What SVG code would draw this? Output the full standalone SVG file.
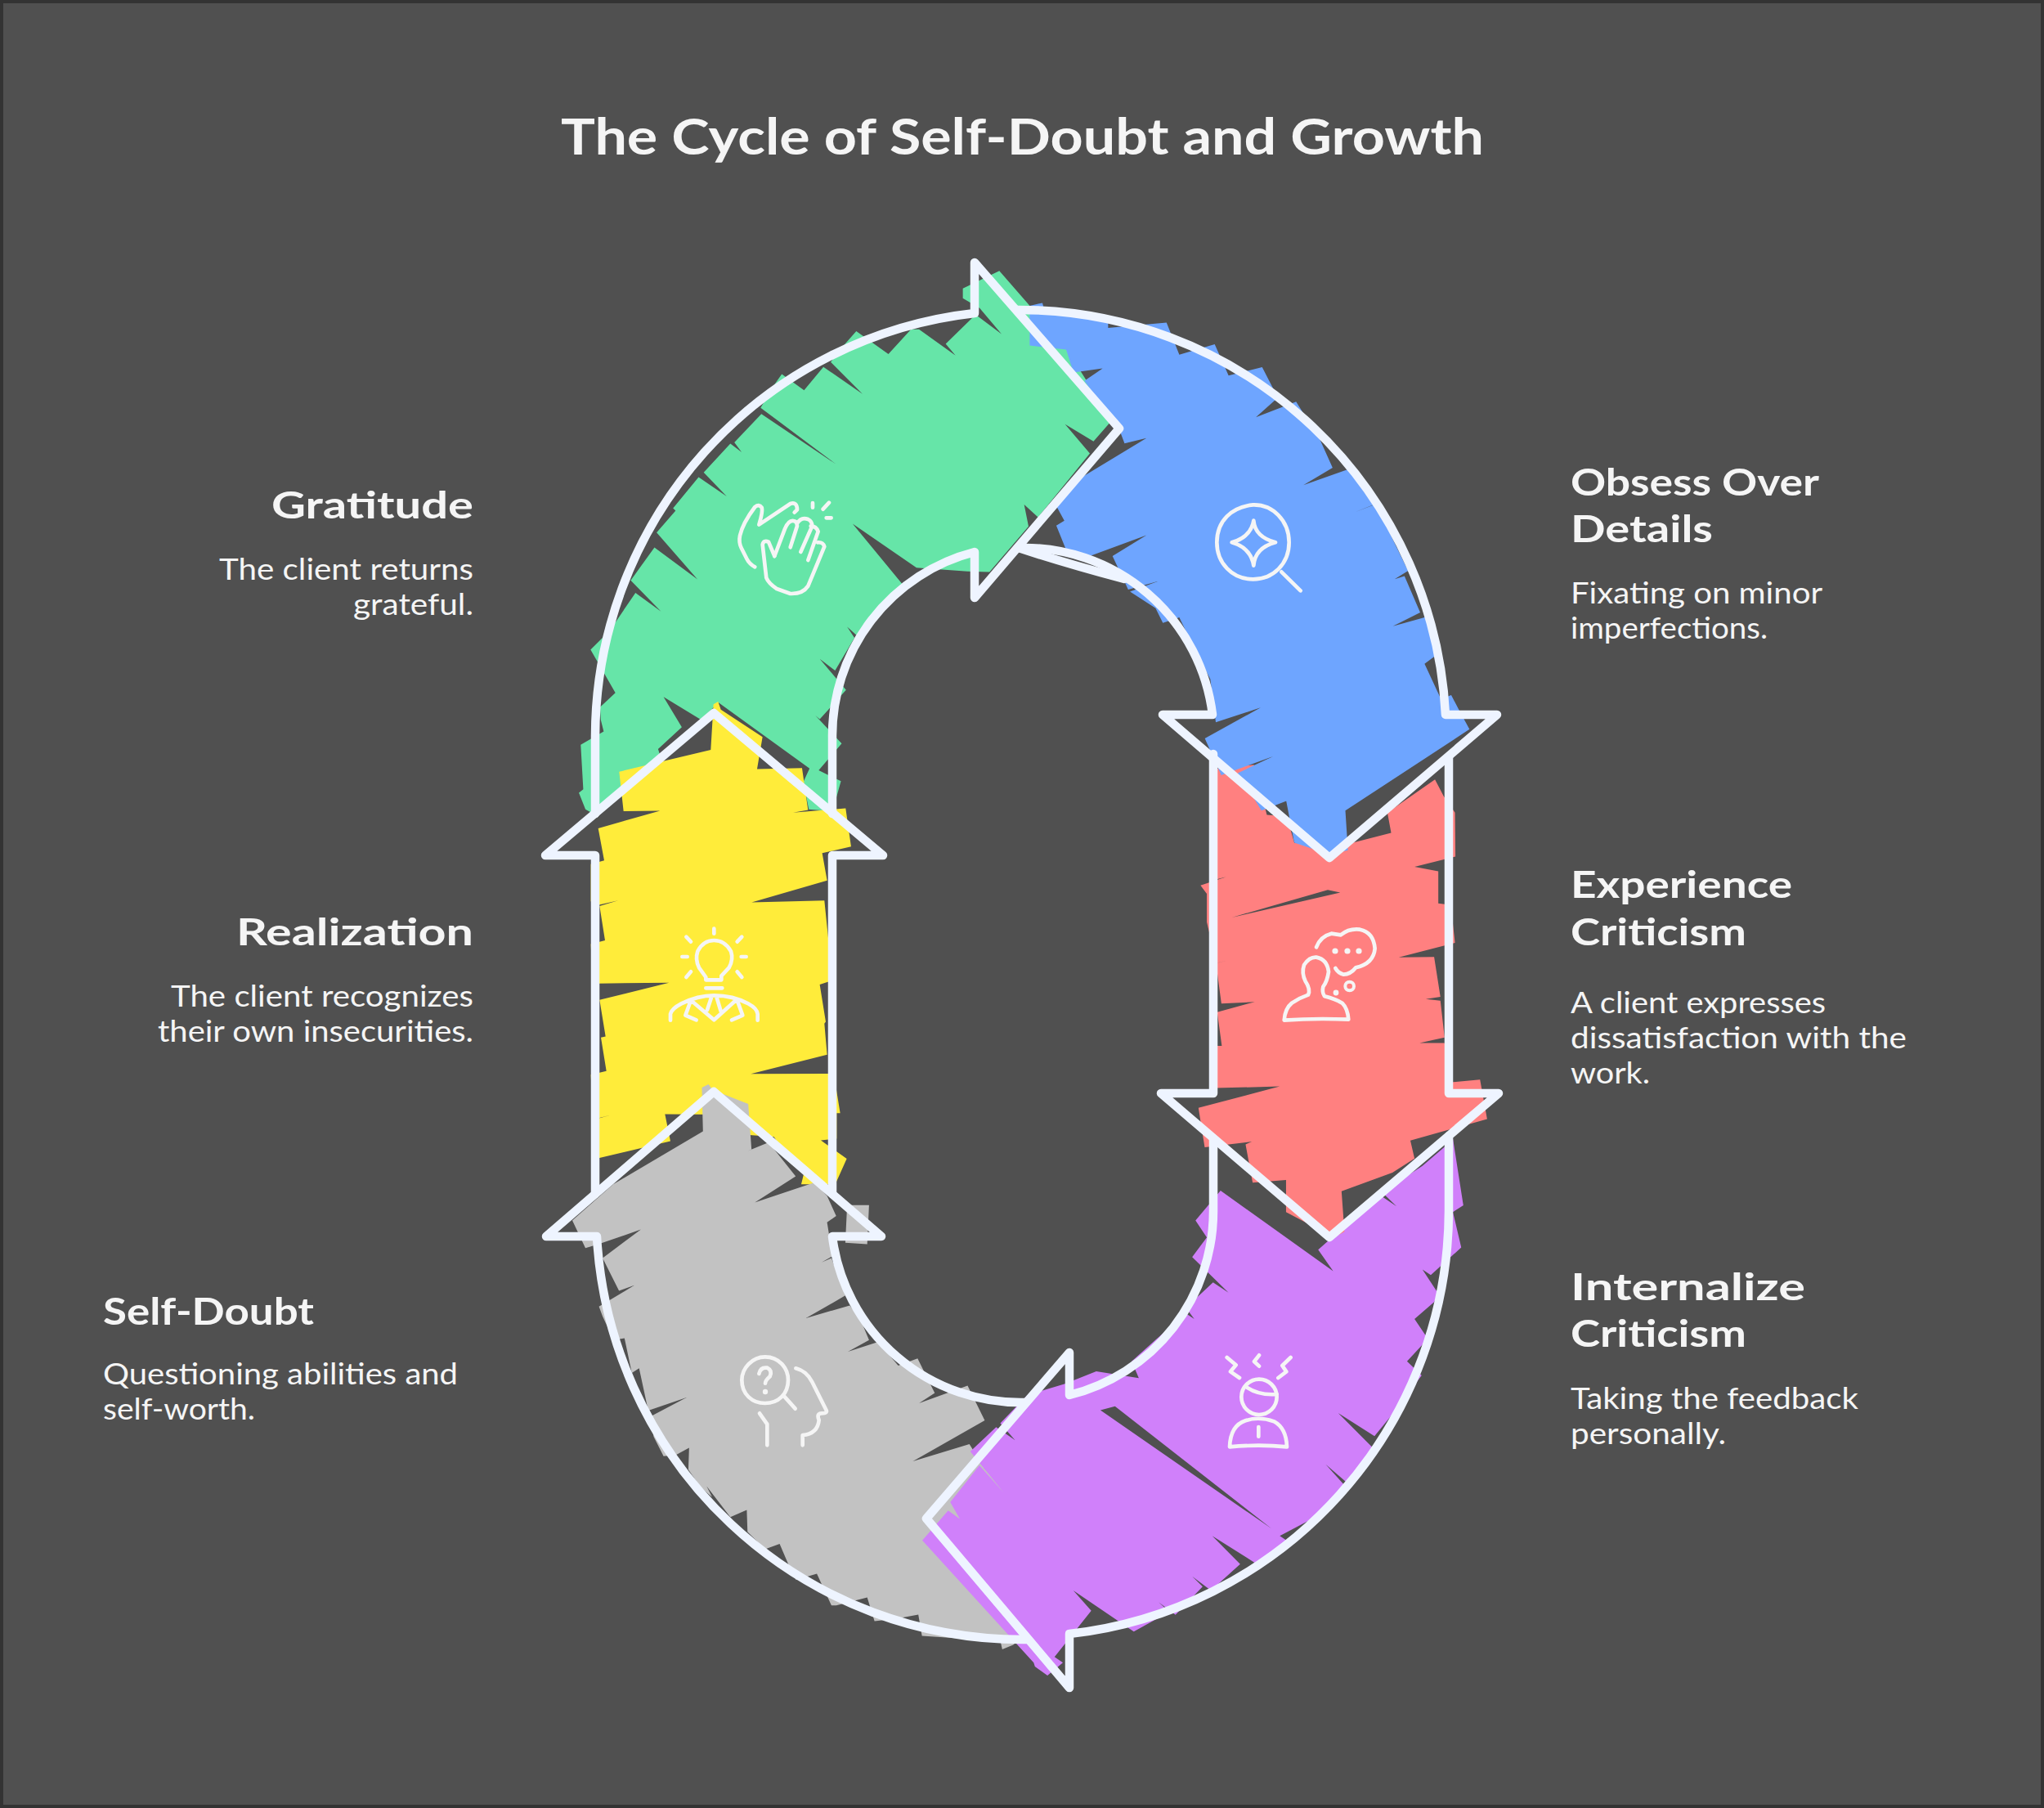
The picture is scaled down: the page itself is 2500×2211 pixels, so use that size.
<svg xmlns="http://www.w3.org/2000/svg" width="2500" height="2211" viewBox="0 0 2500 2211">
<style>
.h{font-family:"Lato","Open Sans",sans-serif;font-weight:700;font-size:46px;fill:#f5f5f5}
.d{font-family:"Lato","Open Sans",sans-serif;font-weight:400;font-size:36px;fill:#f5f5f5}
.t{font-family:"Lato","Open Sans",sans-serif;font-weight:700;font-size:62px;fill:#f5f5f5}
.i{fill:none;stroke:#f5f5f5;stroke-width:14;stroke-linecap:round;stroke-linejoin:round}
.o{fill:none;stroke:#eef4ff;stroke-width:10.5;stroke-linecap:round;stroke-linejoin:round}
.f{fill:#f5f5f5}
</style>
<rect x="2" y="2" width="2496" height="2207" fill="#505050" stroke="#333" stroke-width="4"/>
<text class="t" x="686" y="189" textLength="1129" lengthAdjust="spacingAndGlyphs">The Cycle of Self-Doubt and Growth</text>

<g id="gratitude">
<path transform="translate(650 300) scale(.4464)" fill="#66e5a8" d="M130 1500 142 1490 135 1368 198 1332 190 1300 188 1265 230 1226 162 1108 215 1055 285 952 355 1003 272 918 337 828 455 915 343 787 395 727 388 720 458 635 535 688 472 622 545 543 576 567 556 540 630 462 835 600 628 445 660 390 686 353 747 397 800 333 907 407 820 320 855 275 890 235 978 298 1040 230 1062 230 1162 302 1135 270 1217 190 1288 243 1228 172 1182 145 1182 118 1282 70 1365 165 1470 290 1590 480 1540 537 1462 490 1530 570 1388 745 1350 710 1362 770 1255 895 1195 893 1055 883 880 763 1018 930 960 985 895 1072 865 1045 885 1075 832 1165 790 1133 838 1190 862 1218 790 1298 778 1288 850 1365 787 1438 848 1468 825 1550 760 1545 745 1470 762 1433 512 1252 465 1300 362 1237 412 1320 347 1380 355 1405 250 1480 175 1560 148 1545Z"/>
<g class="i" transform="translate(860 580) scale(.3333)">
<path d="M190 340Q170 330 160 310L140 270Q130 250 135 225 145 180 190 120 205 108 215 122 220 135 205 185L320 108Q345 100 345 130L335 140"/>
<path d="M262 300 240 248Q222 240 218 258L232 380Q240 400 270 420L320 438Q365 440 385 410L445 265Q440 248 420 250"/>
<path d="M262 300 300 200Q315 165 335 172 345 175 345 190L320 268M345 180Q360 155 385 165 400 172 400 190L358 285M395 190Q415 190 422 210L385 315"/>
<path d="M402 105V122M462 104 440 128M452 160H470"/>
</g>
<text class="h" x="332" y="634" textLength="247" lengthAdjust="spacingAndGlyphs">Gratitude</text>
<text class="d" x="268" y="709" textLength="311" lengthAdjust="spacingAndGlyphs">The client returns</text>
<text class="d" x="432" y="752" textLength="147" lengthAdjust="spacingAndGlyphs">grateful.</text>
</g>

<g id="realization">
<path transform="translate(650 850) scale(.3333 .4464)" fill="#ffec3a" d="M322 210 500 178 658 150 668 25 685 18 695 40 848 115 828 203 993 200 1015 315 960 322 1153 310 1173 415 1067 433 1085 508 808 568 1075 563 1090 672 1090 785 1058 793 1080 895 1075 900 1085 985 805 1038 1090 1037 1110 1040 1133 1145 1120 1145 1120 1215 1062 1220 1157 1270 1115 1340 990 1340 1000 1310 955 1285 890 1210 800 1205 790 1150 490 1148 510 1222 250 1268 225 1270 220 1165 295 1150 250 1158 225 1150 218 1040 275 1030 255 938 272 935 250 835 505 788 245 790 224 785 218 682 270 672 250 578 318 563 245 575 218 565 218 463 267 453 245 365 472 317 338 318Z"/>
<g class="i" transform="translate(800 1120) scale(.3333)">
<path d="M220 47V65M118 77 135 95M322 77 305 95M103 150H122M320 150H338M118 225 135 205M322 225 305 205"/>
<path d="M190 235V225L165 190Q150 160 160 130 180 90 220 90 260 90 282 130 292 160 275 190L247 220V235ZM190 265H250"/>
<path d="M60 383V360Q65 340 100 322 160 292 220 292 290 292 345 322 378 340 380 360V383M135 310 115 365 155 382M305 310 325 365 285 382M135 310 220 382 300 310M210 300 195 345M230 300 245 350"/>
</g>
<text class="h" x="289" y="1156" textLength="290" lengthAdjust="spacingAndGlyphs">Realization</text>
<text class="d" x="209" y="1231" textLength="370" lengthAdjust="spacingAndGlyphs">The client recognizes</text>
<text class="d" x="193" y="1274" textLength="386" lengthAdjust="spacingAndGlyphs">their own insecurities.</text>
</g>

<g id="self-doubt">
<path transform="translate(650 1400) scale(.4464)" fill="#c2c2c2" fill-rule="evenodd" d="M467 -157 485 -166 497 -150 594 -112 603 13 590 18 650 -7 724 86 612 158 776 103 810 140 835 195 810 212 825 305 795 322 822 310 860 413 752 475 872 440 900 475 925 535 867 567 950 540 1005 605 1058 585 1105 680 1062 708 1195 660 1242 755 1045 867 1200 820 1240 885 1290 940 1350 1000 1350 1345 1320 1370 1290 1382 1285 1360 1070 1345 1060 1287 1000 1298 940 1305 920 1240 835 1262 822 1262 782 1175 725 1192 715 1175 680 1093 640 1108 592 1060 590 1000 545 1020 480 935 495 965 465 940 430 890 432 830 395 850 362 853 335 800 325 745 425 692 320 728 295 612 275 625 255 530 225 535 195 470 185 443 282 385 240 400 195 310 300 232 190 270 148 283 112 207 224 108 470 -37ZM865 165 925 165 920 272 860 268Z"/>
<g class="i" transform="translate(890 1640) scale(.3333)">
<path d="M137 58C190 58 222 100 222 143 222 195 185 228 137 228 90 228 52 195 52 143 52 100 90 58 137 58Z"/>
<path d="M115 120Q120 95 145 98 165 108 155 130 138 145 138 155M205 200 248 248"/>
<path d="M250 100Q290 110 310 150L360 250Q370 265 345 265 325 265 335 290 330 340 275 345V382M117 265 145 305V382"/>
</g>
<circle class="f" cx="936" cy="1702" r="3.2"/>
<text class="h" x="126" y="1620" textLength="258" lengthAdjust="spacingAndGlyphs">Self-Doubt</text>
<text class="d" x="126" y="1693" textLength="434" lengthAdjust="spacingAndGlyphs">Questioning abilities and</text>
<text class="d" x="126" y="1736" textLength="186" lengthAdjust="spacingAndGlyphs">self-worth.</text>
</g>

<g id="internalize-criticism">
<path transform="translate(1050 1000) scale(.5102 .6888)" fill="#d080fa" fill-rule="evenodd" d="M153 1283 215 1230 243 1245 220 1215 290 1150 348 1198 268 1125 330 1082 375 1105 340 1075 405 1025 495 1005 570 983 672 995 655 965 715 925 785 880 805 890 785 870 850 825 887 843 800 780 835 745 808 715 868 662 1138 805 1102 767 1250 670 1290 690 1255 665 1352 618 1420 575 1425 570 1450 688 1425 700 1445 763 1372 812 1352 802 1390 845 1380 860 1333 890 1365 925 1315 965 1350 990 1290 1050 1237 1098 1150 1057 1232 1118 1170 1180 1120 1148 1165 1185 1100 1240 1010 1275 1040 1290 955 1325 848 1275 915 1325 845 1372 800 1347 825 1365 760 1415 720 1393 745 1410 660 1445 515 1372 558 1408 470 1490 490 1500 453 1523 423 1507 420 1500ZM580 1052 615 1045 990 1262Z"/>
<g class="i" transform="translate(1480 1640) scale(.3333)">
<path d="M62 60 95 88 75 112 108 135M180 52 162 75 180 92M296 60 265 90 280 112 250 135"/>
<circle cx="180" cy="205" r="65"/>
<path d="M135 170Q180 200 245 195"/>
<path d="M72 388Q75 310 130 292 180 275 235 295 280 320 282 388 180 378 72 388ZM178 315V350"/>
</g>
<text class="h" x="1921" y="1590" textLength="287" lengthAdjust="spacingAndGlyphs">Internalize</text>
<text class="h" x="1921" y="1647" textLength="215" lengthAdjust="spacingAndGlyphs">Criticism</text>
<text class="d" x="1921" y="1723" textLength="352" lengthAdjust="spacingAndGlyphs">Taking the feedback</text>
<text class="d" x="1921" y="1766" textLength="190" lengthAdjust="spacingAndGlyphs">personally.</text>
</g>

<g id="experience-criticism">
<path transform="translate(1050 1000) scale(.5102 .6888)" fill="#ff8080" fill-rule="evenodd" d="M858 -87 948 -94 979 -5 1027 -2 1045 45 1172 47 1277 27 1268 -9 1382 -68 1403 -38 1430 -9 1431 69 1333 87 1390 95 1390 152 1420 155 1430 222 1295 248 1380 247 1395 318 1360 322 1395 325 1405 390 1345 400 1405 400 1415 470 1490 465 1507 535 1323 573 1333 605 1280 630 1158 663 1165 735 1140 745 1025 700 1025 643 945 648 928 580 943 575 830 585 815 515 1010 477 855 480 858 405 871 405 860 345 950 327 870 330 857 258 888 253 858 258 835 185 835 135 820 120 882 105 855 110ZM895 177 1125 128 1155 133Z"/>
<g class="i" transform="translate(1540 1110) scale(.3333)">
<path d="M92 413Q95 370 120 350 150 330 180 320 190 300 170 270 155 240 165 210 185 180 210 182 250 190 255 235 250 270 235 290 230 310 240 325 280 335 305 350 325 370 328 410 200 405 92 413Z"/>
<path d="M210 145Q225 105 265 95L300 100Q330 75 370 80 420 90 425 150 420 205 355 220 335 245 310 245 290 240 280 222"/>
<circle cx="332" cy="288" r="16" stroke-width="12"/>
</g>
<g class="f"><circle cx="1633" cy="1163" r="3.6"/><circle cx="1648" cy="1163" r="3.6"/><circle cx="1662" cy="1163" r="3.6"/><circle cx="1634" cy="1214" r="3.4"/></g>
<text class="h" x="1921" y="1098" textLength="271" lengthAdjust="spacingAndGlyphs">Experience</text>
<text class="h" x="1921" y="1156" textLength="215" lengthAdjust="spacingAndGlyphs">Criticism</text>
<text class="d" x="1921" y="1239" textLength="312" lengthAdjust="spacingAndGlyphs">A client expresses</text>
<text class="d" x="1921" y="1282" textLength="411" lengthAdjust="spacingAndGlyphs">dissatisfaction with the</text>
<text class="d" x="1921" y="1325" textLength="97" lengthAdjust="spacingAndGlyphs">work.</text>
</g>

<g id="obsess-over-details">
<path transform="translate(1150 300) scale(.4464 .5102)" fill="#6ea5ff" d="M245 145 280 138 285 155 400 165 460 185 460 198 620 185 655 262 752 237 790 312 882 292 925 365 865 412 975 375 1040 465 1075 533 995 575 1117 537 1187 622 1135 640 1195 620 1240 705 1282 780 1245 800 1272 793 1315 880 1240 913 1335 890 1355 985 1327 1003 1372 1088 1400 1078 1422 1115 1450 1160 1110 1355 1117 1450 1067 1460 970 1432 948 1332 960 1328 895 1350 880 1355 835 1290 815 1265 912 1225 770 1270 725 1182 878 1108 755 1143 740 1040 690 955 655 892 610 905 590 870 520 830 597 805 515 825 472 745 565 695 410 745 345 730 318 672 340 660 315 620 380 560 565 462 505 475 490 440 395 325 445 295 365 305 345 250 245 240Z"/>
<g class="i" transform="translate(1460 600) scale(.3333)">
<path d="M218 52C290 50 350 110 350 190 350 270 290 325 218 325 140 325 85 265 85 190 85 110 140 60 218 52Z"/>
<path d="M220 110Q225 170 300 190 225 210 220 275 210 210 140 190 210 170 220 110ZM322 298 392 367"/>
</g>
<text class="h" x="1921" y="606" textLength="304" lengthAdjust="spacingAndGlyphs">Obsess Over</text>
<text class="h" x="1921" y="663" textLength="174" lengthAdjust="spacingAndGlyphs">Details</text>
<text class="d" x="1921" y="738" textLength="308" lengthAdjust="spacingAndGlyphs">Fixating on minor</text>
<text class="d" x="1921" y="781" textLength="241" lengthAdjust="spacingAndGlyphs">imperfections.</text>
</g>

<g id="connectors">
<path class="o" d="M728 995V900A522 522 0 0 1 1192 383V321L1369 524 1192 731V675A232 232 0 0 0 1018 902V995"/>
<path class="o" d="M1244 379A522 522 0 0 1 1768 874H1831L1626 1049 1422 874H1483A232 232 0 0 0 1246 670"/>
<path class="o" d="M1246 670Q1300 688 1375 708"/>
<path class="o" d="M1772 925V1337H1833L1626 1513 1420 1337H1484V922"/>
<path class="o" d="M1772 1389V1480A522 522 0 0 1 1308 1998V2064L1133 1857 1308 1654V1706A232 232 0 0 0 1484 1480V1392"/>
<path class="o" d="M1255 2005A522 522 0 0 1 730 1512H668L873 1335 1078 1512H1018A232 232 0 0 0 1255 1715"/>
<path class="o" d="M728 1460V1046H667L873 872 1080 1046H1018V1460"/>
</g>
</svg>
